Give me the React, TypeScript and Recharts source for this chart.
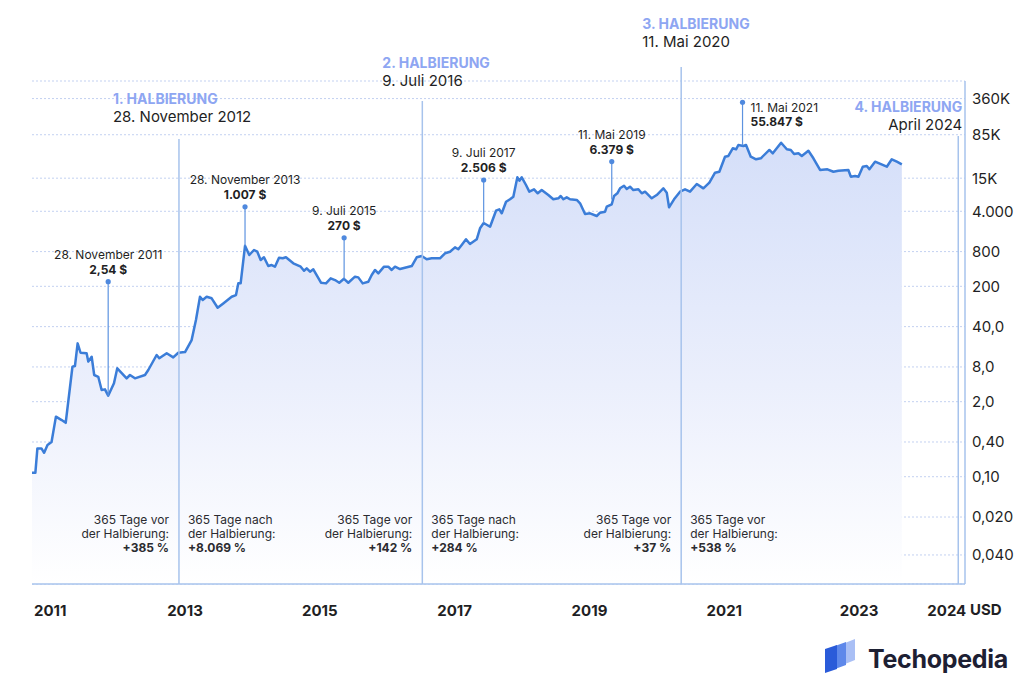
import React from "react";
import { AreaChart, Area, XAxis, YAxis, CartesianGrid, ReferenceLine, ReferenceDot } from "recharts";

// Bitcoin price (USD); dates as decimal years
const dates = [
  2010.73, 2010.78, 2010.81, 2010.87, 2010.91, 2010.96, 2011.02, 2011.085, 2011.17, 2011.23,
  2011.33, 2011.367, 2011.407, 2011.45, 2011.54, 2011.565, 2011.615, 2011.653, 2011.713, 2011.763,
  2011.812, 2011.86, 2011.946, 2011.995, 2012.134, 2012.183, 2012.257, 2012.406, 2012.455, 2012.579,
  2012.618, 2012.728, 2012.825, 2012.9, 2013.0, 2013.098, 2013.162, 2013.222, 2013.262, 2013.321,
  2013.395, 2013.484, 2013.567, 2013.692, 2013.756, 2013.79, 2013.825, 2013.89, 2013.953, 2014.023,
  2014.072, 2014.122, 2014.171, 2014.235, 2014.285, 2014.334, 2014.394, 2014.449, 2014.497, 2014.606,
  2014.716, 2014.765, 2014.805, 2014.854, 2014.903, 2015.017, 2015.091, 2015.161, 2015.225, 2015.288,
  2015.358, 2015.422, 2015.521, 2015.57, 2015.635, 2015.719, 2015.769, 2015.818, 2015.867, 2015.952,
  2016.015, 2016.066, 2016.115, 2016.189, 2016.363, 2016.437, 2016.511, 2016.585, 2016.659, 2016.782,
  2016.857, 2016.931, 2017.005, 2017.054, 2017.104, 2017.168, 2017.227, 2017.327, 2017.376, 2017.43,
  2017.525, 2017.613, 2017.662, 2017.698, 2017.762, 2017.821, 2017.87, 2017.93, 2017.96, 2017.995,
  2018.058, 2018.107, 2018.177, 2018.232, 2018.291, 2018.389, 2018.463, 2018.538, 2018.573, 2018.612,
  2018.662, 2018.711, 2018.811, 2018.86, 2018.934, 2019.008, 2019.107, 2019.157, 2019.231, 2019.256,
  2019.33, 2019.364, 2019.413, 2019.453, 2019.512, 2019.552, 2019.601, 2019.65, 2019.725, 2019.775,
  2019.824, 2019.923, 2019.997, 2020.095, 2020.146, 2020.18, 2020.254, 2020.343, 2020.417, 2020.491,
  2020.591, 2020.689, 2020.778, 2020.862, 2020.926, 2021.01, 2021.06, 2021.125, 2021.174, 2021.208,
  2021.282, 2021.322, 2021.392, 2021.471, 2021.541, 2021.668, 2021.719, 2021.842, 2021.927, 2021.986,
  2022.035, 2022.099, 2022.149, 2022.247, 2022.321, 2022.42, 2022.529, 2022.618, 2022.692, 2022.84,
  2022.876, 2022.94, 2022.989, 2023.054, 2023.113, 2023.152, 2023.236, 2023.41, 2023.484, 2023.559,
  2023.633,
];
const prices = [
  0.117, 0.117, 0.31, 0.31, 0.26, 0.354, 0.4, 1.1, 0.96, 0.86,
  8.07, 8.3, 20.5, 14.1, 13.8, 9.9, 12, 5.8, 5.4, 3.18,
  3.27, 2.54, 4.16, 7.57, 5.08, 5.8, 5.08, 5.8, 7.08, 12.9,
  11.3, 13.8, 11.7, 14.1, 14.5, 23.4, 52, 132, 116, 132,
  124, 85, 101, 132, 141, 225, 225, 1007, 698, 853,
  796, 571, 637, 450, 468, 438, 627, 612, 637, 501,
  438, 373, 410, 358, 394, 231, 225, 275, 257, 231,
  270, 231, 294, 286, 225, 240, 314, 384, 336, 438,
  438, 384, 438, 399, 450, 637, 671, 588, 612, 612,
  747, 796, 949, 877, 1040, 1306, 1083, 1306, 2028, 2506,
  2161, 4093, 4328, 3690, 5861, 6457, 7160, 15530, 13550, 15530,
  11430, 8750, 9620, 8200, 9350, 7660, 6457, 6714, 7362, 6457,
  6985, 6457, 6280, 5500, 3590, 3690, 3313, 3778, 3934, 4800,
  5290, 7362, 8200, 10000, 11110, 9730, 10670, 9350, 9620, 8200,
  8750, 6714, 7660, 10000, 8400, 4690, 6457, 8750, 9620, 8750,
  11890, 10000, 12530, 18660, 19410, 35320, 36390, 49430, 47530, 56360,
  54200, 56360, 35320, 31840, 33190, 46240, 40460, 61800, 47530, 46240,
  39360, 40460, 36390, 44870, 33190, 20800, 21380, 19410, 20230, 20800,
  15920, 16370, 15920, 23710, 24380, 21380, 28970, 23710, 31840, 28970,
  26120,
];

const yTickValues = [0.0044, 0.02, 0.1, 0.4, 2, 8, 40, 200, 800, 4000, 15000, 85000, 360000];
const yTickLabels = ["0,040", "0,020", "0,10", "0,40", "2,0", "8,0", "40,0", "200", "800", "4.000", "15K", "85K", "360K"];
const xTickValues = [2011, 2013, 2015, 2017, 2019, 2021, 2023, 2024.3];
const xTickLabels = ["2011", "2013", "2015", "2017", "2019", "2021", "2023", "2024"];

const halvingDates = [2012.91, 2016.52, 2020.36, 2024.47];
const halvingTops = [71600, 326600, 1270000, 80700];
const halvingTitles = ["1. HALBIERUNG", "2. HALBIERUNG", "3. HALBIERUNG", "4. HALBIERUNG"];
const halvingSubtitles = ["28. November 2012", "9. Juli 2016", "11. Mai 2020", "April 2024"];

const pinDates = [2011.86, 2013.89, 2015.36, 2017.43, 2019.33, 2021.27];
const pinPrices = [2.54, 1007, 270, 2506, 6379, 55847];
const pinDateLabels = ["28. November 2011", "28. November 2013", "9. Juli 2015", "9. Juli 2017", "11. Mai 2019", "11. Mai 2021"];
const pinPriceLabels = ["2,54 $", "1.007 $", "270 $", "2.506 $", "6.379 $", "55.847 $"];

const beforeHeads = ["365 Tage vor", "365 Tage vor", "365 Tage vor"];
const beforeChanges = ["+385 %", "+142 %", "+37 %"];
const afterHeads = ["365 Tage nach", "365 Tage nach", "365 Tage vor"];
const afterChanges = ["+8.069 %", "+284 %", "+538 %"];

const data = dates.map((t, i) => ({ t, price: prices[i] }));

const Y_DOMAIN: [number, number] = [0.00138, 726000];
const X_DOMAIN: [number, number] = [2010.73, 2024.57];

const FONT = "Inter, 'Noto Sans', sans-serif";
const LINE_BLUE = "#3b7dd8";
const SOFT_BLUE = "#a7c3ec";
const TITLE_BLUE = "#8ea6f2";
const INK = "#1f1f24";

// label placement (pixels)
const HALVING_LAYOUT = [
  { dx: -66, gap: 21, anchor: "start" },
  { dx: -40, gap: 19, anchor: "start" },
  { dx: -39, gap: 24, anchor: "start" },
  { dx: 4, gap: 10, anchor: "end" },
];
const PIN_LENGTHS = [114, 39, 41, 43, 38, 43];

function HalvingLabel({ cx, cy, i }: { cx: number; cy: number; i: number }) {
  const l = HALVING_LAYOUT[i];
  const dateY = cy - l.gap;
  return (
    <g fontFamily={FONT}>
      <text x={cx + l.dx} y={dateY - 18} textAnchor={l.anchor as any} dominantBaseline="middle" fontSize={14} fontWeight={700} fill={TITLE_BLUE}>
        {halvingTitles[i]}
      </text>
      <text x={cx + l.dx} y={dateY} textAnchor={l.anchor as any} dominantBaseline="middle" fontSize={15} fill={INK}>
        {halvingSubtitles[i]}
      </text>
    </g>
  );
}

function Pin({ cx, cy, i }: { cx: number; cy: number; i: number }) {
  const top = cy - PIN_LENGTHS[i];
  const side = i === 5;
  const tx = side ? cx + 8 : cx;
  const y1 = side ? top + 6 : top - 26;
  const y2 = side ? top + 20 : top - 11;
  const anchor = side ? "start" : "middle";
  return (
    <g fontFamily={FONT}>
      <line x1={cx} y1={cy} x2={cx} y2={top} stroke="#5d93e0" strokeWidth={1.2} />
      <circle cx={cx} cy={top} r={2.6} fill="#4f89de" />
      <text x={tx} y={y1} textAnchor={anchor} dominantBaseline="middle" fontSize={12} fill={INK}>
        {pinDateLabels[i]}
      </text>
      <text x={tx} y={y2} textAnchor={anchor} dominantBaseline="middle" fontSize={12} fontWeight={700} fill={INK}>
        {pinPriceLabels[i]}
      </text>
    </g>
  );
}

function ChangeNote({ cx, cy, i }: { cx: number; cy: number; i: number }) {
  const rows = [
    [beforeHeads[i], afterHeads[i]],
    ["der Halbierung:", "der Halbierung:"],
    [beforeChanges[i], afterChanges[i]],
  ];
  return (
    <g fontFamily={FONT} fontSize={12} fill="#2b2b30">
      {rows.map((r, k) => (
        <g key={k} fontWeight={k === 2 ? 700 : 400}>
          <text x={cx - 10} y={cy + 4 + k * 14} textAnchor="end" dominantBaseline="middle">{r[0]}</text>
          <text x={cx + 9} y={cy + 4 + k * 14} textAnchor="start" dominantBaseline="middle">{r[1]}</text>
        </g>
      ))}
    </g>
  );
}

function Logo() {
  return (
    <svg width={200} height={50} style={{ position: "absolute", left: 815, top: 636 }}>
      <polygon points="30,7 40,3 40,24 30,28" fill="#a9bff5" />
      <polygon points="20,10 31,6 31,29 20,33" fill="#5e88ea" />
      <polygon points="10,13 22,9 22,33 10,37" fill="#2a5bd9" />
      <text x={53} y={32} fontFamily={FONT} fontSize={25} fontWeight={700} fill="#1d2033" letterSpacing={-0.3}>
        Techopedia
      </text>
    </svg>
  );
}

export default function App() {
  return (
    <div style={{ position: "absolute", left: 0, top: 0, width: 1024, height: 690, background: "#fff", fontFamily: FONT }}>
      <AreaChart width={1024} height={690} data={data} margin={{ top: 81, right: 0, left: 32, bottom: 66 }}>
        <defs>
          <linearGradient id="btcFill" x1="0" y1="0" x2="0" y2="1">
            <stop offset="0%" stopColor="#d5dff9" />
            <stop offset="55%" stopColor="#ebeffc" />
            <stop offset="100%" stopColor="#ffffff" />
          </linearGradient>
        </defs>
        <CartesianGrid vertical={false} stroke="#c3d1f1" strokeDasharray="2 2" />
        <XAxis
          dataKey="t"
          type="number"
          domain={X_DOMAIN}
          allowDataOverflow
          ticks={xTickValues}
          tickFormatter={(v: number) => xTickLabels[xTickValues.indexOf(v)] ?? ""}
          tick={{ fill: INK, fontSize: 15, fontWeight: 700, fontFamily: FONT }}
          axisLine={{ stroke: SOFT_BLUE, strokeWidth: 1.5 }}
          tickLine={false}
          tickSize={0}
          tickMargin={21}
          height={40}
          interval={0}
        />
        <YAxis
          orientation="right"
          scale="log"
          domain={Y_DOMAIN}
          allowDataOverflow
          ticks={yTickValues}
          tickFormatter={(v: number) => yTickLabels[yTickValues.indexOf(v)] ?? ""}
          tick={{ fill: INK, fontSize: 15, fontFamily: FONT, textAnchor: "start" }}
          axisLine={{ stroke: SOFT_BLUE, strokeWidth: 1.5 }}
          tickLine={false}
          tickSize={0}
          tickMargin={7}
          width={59}
          interval={0}
        />
        <Area
          type="linear"
          dataKey="price"
          stroke={LINE_BLUE}
          strokeWidth={2.5}
          strokeLinejoin="round"
          fill="url(#btcFill)"
          fillOpacity={1}
          baseValue="dataMin"
          dot={false}
          activeDot={false}
          isAnimationActive={false}
        />
        {halvingDates.map((d, i) => (
          <ReferenceLine
            key={`hl${i}`}
            segment={[{ x: d, y: Y_DOMAIN[0] }, { x: d, y: halvingTops[i] }]}
            stroke={SOFT_BLUE}
            strokeWidth={1.5}
            ifOverflow="visible"
          />
        ))}
        {halvingDates.map((d, i) => (
          <ReferenceDot
            key={`hd${i}`}
            x={d}
            y={halvingTops[i]}
            ifOverflow="visible"
            shape={(p: any) => <HalvingLabel cx={p.cx} cy={p.cy} i={i} />}
          />
        ))}
        {halvingDates.slice(0, 3).map((d, i) => (
          <ReferenceDot
            key={`cn${i}`}
            x={d}
            y={yTickValues[1]}
            ifOverflow="visible"
            shape={(p: any) => <ChangeNote cx={p.cx} cy={p.cy} i={i} />}
          />
        ))}
        {pinDates.map((d, i) => (
          <ReferenceDot
            key={`pn${i}`}
            x={d}
            y={pinPrices[i]}
            ifOverflow="visible"
            shape={(p: any) => <Pin cx={p.cx} cy={p.cy} i={i} />}
          />
        ))}
      </AreaChart>
      <div style={{ position: "absolute", left: 970, top: 600, fontSize: 15, fontWeight: 700, color: INK, lineHeight: "20px" }}>USD</div>
      <Logo />
    </div>
  );
}
